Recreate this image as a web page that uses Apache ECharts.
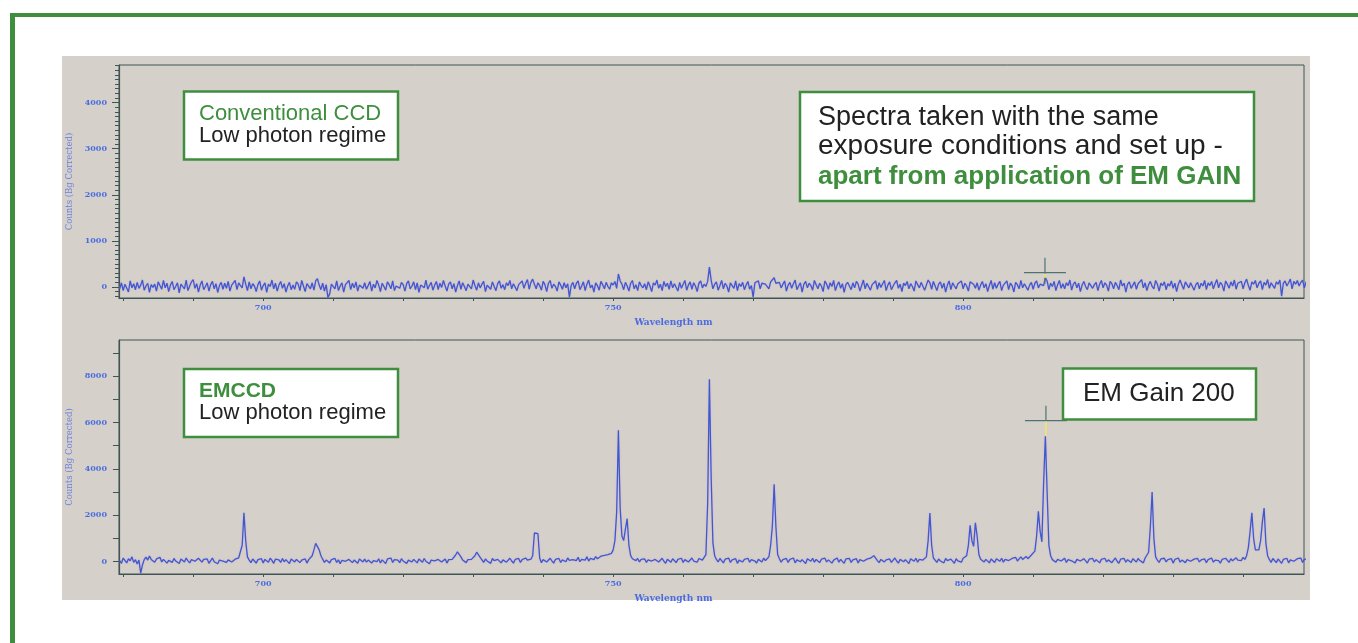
<!DOCTYPE html>
<html>
<head>
<meta charset="utf-8">
<script src="https://cdn.jsdelivr.net/npm/echarts@6/dist/echarts.min.js"></script>
<style>
html,body{margin:0;padding:0;background:#ffffff;}
#chart{width:1358px;height:643px;}
</style>
</head>
<body>
<div id="chart"></div>
<script>
// ---- sampling grid of the spectra (nm): one value every 0.25 nm ----
const startNm = 679.5;
const stepNm = 0.25;

// ---- Conventional CCD spectrum, counts (Bg corrected); each row = 5 nm ----
const ccdCounts = [
  -40, 90, -80, 60, 20, -110, 130, -20, 70, -60, 100, -30, 40, 150, -70, 20, 80, -120, 50, -10,
  60, -90, 110, 30, -50, 140, -20, 80, -100, 40, 120, -60, 10, 90, -130, 60, 30, -40, 150, -80,
  20, 110, 160, -30, 70, -110, 40, 130, -60, 10, 90, -90, 50, 120, -40, 70, -120, 30, 100, -50,
  80, -30, 120, -90, 40, 10, 140, -60, 90, 30, -20, 220, 60, -80, 110, -40, 70, 20, -100, 50,
  130, -70, 30, 90, -120, 60, 10, 150, -40, 80, -90, 40, 120, -30, 70, -110, 20, 100, -60, 40,
  -50, 110, 60, -80, 140, 20, -100, 70, 30, -40, 90, -70, 130, 180, 40, -60, 80, -90, 50, -230,
  -150, 60, 100, -40, 130, -80, 20, 90, -110, 50, 10, 140, -60, 80, -20, 110, -90, 40, 70, -30,
  90, -50, 30, 120, -90, 60, -20, 140, 40, -100, 80, 10, -70, 110, 50, -40, 130, -80, 20, 60,
  -30, 100, 50, -90, 70, 130, -40, 20, 110, -60, 90, -120, 40, 80, -20, 150, -50, 30, 100, -70,
  40, 120, -60, 80, -10, 140, 20, -90, 60, 110, -40, 70, -110, 30, 130, -50, 90, 10, -80, 60,
  100, -40, 150, 30, -70, 90, -20, 60, 120, -100, 40, 80, -50, 110, 10, -80, 70, 130, -30, 50,
  -60, 90, 30, 140, -40, 70, 110, -80, 50, 20, 130, -30, 80, 160, -50, 100, 170, 60, -40, 90,
  30, -70, 120, 50, -100, 80, 140, -30, 60, 10, -90, 110, 40, -50, 90, -20, 70, -220, 30, 100,
  -40, 80, 130, -60, 20, 110, -80, 60, 150, -20, 40, -110, 90, 30, -70, 120, 50, -40, 100, 10,
  -50, 90, 40, 120, -30, 280, 130, 60, -60, 100, 20, -90, 80, 140, -40, 50, -80, 110, 30, -20,
  70, -60, 110, 20, -100, 90, 40, 150, -30, 60, -80, 120, 10, 80, -50, 130, -20, 70, 40, -90,
  100, -30, 60, 140, -70, 40, 110, -50, 90, 20, -100, 80, 130, -20, 60, 10, 120, 430, 150, -40,
  60, 110, -70, 30, 140, -40, 80, 20, -110, 90, 50, -30, 130, -80, 70, 10, 100, -60, 40, 120,
  -50, 30, -220, 90, 50, 130, -40, 80, 110, 60, 60, -40, 110, 90, 200, 80, 40, 100, -20, 60,
  130, -90, 40, 100, -30, 70, 150, -60, 20, 90, -110, 60, 120, -20, 80, 30, -70, 140, 50, -40,
  80, 20, -100, 130, 60, -50, 90, 10, 140, -80, 40, 110, -30, 70, -120, 50, 100, 20, -60, 90,
  -20, 120, 60, -90, 30, 150, -40, 80, 110, -70, 50, 10, 130, -50, 90, -10, 70, 140, -80, 40,
  110, -60, 20, 90, 140, -30, 60, -100, 80, 30, 120, -40, 70, 10, -90, 130, 50, -20, 100, 60,
  -70, 40, 150, 90, -50, 120, 20, -80, 60, 110, -30, 80, -110, 40, 130, -60, 90, 20, -40, 70,
  50, 130, -40, 80, 20, -90, 110, 150, 60, -30, 90, -70, 40, 120, -20, 70, -100, 30, 140, -50,
  90, -30, 60, 120, -80, 40, 10, 130, -60, 80, 30, -110, 100, 50, -40, 140, -20, 70, 110, -70,
  40, 100, -50, 80, 130, -20, 60, 90, 30, 200, 130, -60, 80, 10, 120, -80, 50, 140, -30, 70,
  -40, 90, 30, 150, -70, 60, 110, -20, 80, -100, 40, 120, 10, -60, 90, 130, -30, 50, 100, -80,
  60, 140, -20, 90, 40, -90, 120, 70, -40, 100, 30, -60, 150, 20, 80, -110, 60, 110, -30, 40,
  110, -50, 70, 30, 160, -20, 90, -80, 50, 120, 10, -40, 140, 60, -90, 80, 30, 110, -60, 70,
  20, 130, -30, 80, -100, 60, 150, 40, -50, 110, 70, -20, 90, 130, -70, 50, 100, -40, 80, 20,
  140, -60, 90, 30, 120, -40, 70, 160, -20, 100, 50, -90, 130, 60, -30, 110, 20, 150, -50, 80,
  60, 120, -40, 90, 170, 30, -70, 110, 60, 140, -20, 80, 130, -60, 100, 40, 160, -30, 90, 120,
  -30, 110, 60, 150, -200, 80, 130, 20, 90, 170, -40, 120, 60, 140, 20, 100, 150, -20, 110, 70
];

// ---- EMCCD spectrum (EM gain 200), counts; each row = 5 nm ----
const emccdCounts = [
  40, -80, 150, 90, -60, 120, 30, 200, -40, 80, -110, 60, -500, -150, 80, 190, 60, 240, 90, 130,
  -30, 110, 60, 180, -20, 90, 140, -70, 50, 100, -40, 130, 20, 70, -90, 110, 40, -20, 150, 30,
  -60, 80, 120, 10, -50, 140, 60, -30, 90, 20, 110, -80, 40, 150, -10, 70, -100, 60, 130, 20,
  90, -40, 70, 130, -20, 60, 100, 20, 160, 150, 700, 2100, 900, 200, 60, -50, 110, 20, -70, 80,
  40, 120, -60, 90, 20, -30, 140, 50, -80, 100, 30, 70, -40, 130, -10, 80, 20, -90, 110, 40,
  -20, 90, 140, -50, 60, 20, 110, -70, 80, 30, 250, 500, 780, 820, 500, 250, 100, -40, 60, 120,
  -60, 80, 30, 130, -40, 70, -100, 50, 120, 10, -30, 90, 150, -50, 60, 20, -80, 110, 40, -20,
  100, -30, 60, 140, -70, 40, 90, -10, 120, -60, 70, 30, -90, 110, 50, 150, -40, 80, 10, 60,
  -50, 120, 20, 80, -80, 60, 140, -20, 90, 30, -60, 110, 50, -30, 130, 10, 70, -100, 60, 100,
  30, -40, 90, 140, -20, 60, 110, -70, 80, 20, 90, 150, 280, 420, 380, 200, 60, 120, -50, 80,
  40, 90, 150, 250, 400, 350, 180, 70, -40, 110, 20, 60, -80, 130, 40, -20, 90, 150, -60, 70,
  110, -30, 50, 140, 20, -70, 90, 60, 130, -40, 80, 10, 150, 60, -20, 100, 250, 1230, 1240, 1200,
  150, -50, 80, 120, -20, 60, 140, 30, -70, 90, 10, 130, -40, 70, 110, -10, 150, 50, -30, 80,
  120, 40, 180, -10, 90, 150, 60, 200, 20, 130, 170, 80, 210, 120, 60, 230, 150, 260, 180, 300,
  280, 350, 500, 900, 2130, 5665, 2300, 1100, 900, 1400, 1846, 700, 250, 120, 180, 40, 130, -20, 90, 60,
  110, -40, 70, 150, 20, -60, 90, 130, -20, 60, 140, 10, -80, 100, 50, -30, 120, 70, -50, 90,
  30, 140, -40, 80, 110, -20, 60, 150, 20, 90, -30, 130, 180, 60, 140, 300, 2500, 7870, 3645, 800,
  250, 90, -20, 130, 40, -60, 100, 20, 150, -40, 70, 10, 120, -80, 60, 110, -20, 90, 40, 140,
  -30, 80, 130, 20, -70, 100, 60, -20, 140, 40, 90, 200, 700, 1550, 3330, 1500, 300, 120, -30, 80,
  60, 130, -40, 90, 20, 150, -60, 70, 110, -10, 80, 40, -90, 120, 60, 10, 140, -30, 90, 50,
  -50, 100, 30, 140, -20, 70, 120, -70, 60, 20, 150, -30, 90, 40, -80, 110, 60, 130, -40, 70,
  20, 120, -60, 80, 150, 10, -40, 100, 60, 140, 170, 250, 180, 40, -50, 90, 130, -20, 70, 30,
  110, -40, 60, 150, 20, -70, 90, 130, -10, 80, 40, -90, 120, 60, 10, 140, -30, 90, 120, 60,
  30, 200, 900, 2090, 700, 150, 60, -40, 110, 20, 90, -60, 130, 40, -20, 100, 60, -80, 120, 30,
  80, -30, 140, 60, 250, 700, 1557, 900, 650, 1673, 1100, 300, 100, 160, -20, 90, 40, -60, 110, 70,
  -40, 120, 60, 10, 140, -30, 90, 150, 40, -20, 130, 70, 180, 20, 110, 200, 90, 160, 220, 120,
  200, 280, 250, 450, 1100, 2162, 1300, 850, 3400, 5405, 3000, 700, 250, 80, 150, -30, 90, 130, 20, 60,
  140, -40, 80, 160, 30, 110, -60, 90, 150, 20, -30, 120, 60, -70, 100, 40, 130, -20, 80, 50,
  -60, 90, 30, 140, -20, 70, 110, -50, 60, 150, 10, -80, 100, 40, 130, -30, 80, 20, -40, 120,
  60, -20, 130, 40, 90, -60, 150, 70, 400, 1500, 2997, 1000, 200, 60, -40, 110, 30, 140, -20, 80,
  40, 120, -70, 90, 20, 150, -30, 60, 110, -50, 80, 140, 10, -40, 100, 60, 130, -20, 70, 30,
  110, -50, 80, 20, 150, -30, 60, 130, 40, -70, 90, 10, 140, 70, -40, 120, 30, 90, 160, 60,
  120, 40, 180, 90, 250, 600, 1300, 2105, 1000, 500, 420, 500, 900, 1700, 2305, 800, 250, 90, -40, 130,
  60, -50, 110, 150, -80, 90, 20, 140, -60, 70, 130, 10, -30, 120, 60, 150, -40, 90, 30, 110
];

// ---- cursor (crosshair) positions [nm, counts] ----
const ccdCursor = [[811.69, 310]];
const emccdCursor = [[811.83, 6080]];

// ---- axis ticks / labels ----
const xTickValues = [680, 690, 700, 710, 720, 730, 740, 750, 760, 770, 780, 790, 800, 810, 820, 830, 840];
const xTickLabels = [700, 750, 800];
const ccdYLabels = [0, 1000, 2000, 3000, 4000];
const ccdYMinorTicks = [];
for (let v = -200; v <= 4800; v += 100) ccdYMinorTicks.push(v);
const emccdYLabels = [0, 2000, 4000, 6000, 8000];
const emccdYTicks = [0, 1000, 2000, 3000, 4000, 5000, 6000, 7000, 8000, 9000];

// build series data on the sampling grid
const ccdData = ccdCounts.map((c, i) => [startNm + i * stepNm, c]);
const emccdData = emccdCounts.map((c, i) => [startNm + i * stepNm, c]);

const GREEN = '#3e8e3e';
const AXIS = '#3f5454';
const LABEL_BLUE = '#4b6be0';
const NAME_BLUE = '#6b7fe0';
const LINE_BLUE = '#3a5ad2';

const plain = function (v) { return String(v); };
const labelStyle = {
  color: LABEL_BLUE, fontFamily: 'DejaVu Serif', fontWeight: 'bold', fontSize: 8, formatter: plain
};

function xAxisFor(gridIndex) {
  return {
    type: 'value', gridIndex: gridIndex, min: 679.4, max: 848.7,
    axisLine: { show: true, onZero: false, lineStyle: { color: AXIS, width: 1.2 } },
    axisTick: { show: true, customValues: xTickValues, length: 3, lineStyle: { color: AXIS } },
    axisLabel: Object.assign({ customValues: xTickLabels, margin: 6 }, labelStyle),
    splitLine: { show: false },
    name: 'Wavelength nm', nameLocation: 'middle', nameGap: 20,
    nameTextStyle: { color: LABEL_BLUE, fontFamily: 'DejaVu Serif', fontWeight: 'bold', fontSize: 9, padding: [0, 76, 0, 0] }
  };
}

function cursorSeries(xi, yi, data, yellowLen, downLen) {
  return {
    type: 'custom', xAxisIndex: xi, yAxisIndex: yi, data: data, z: 5,
    renderItem: function (params, api) {
      const p = api.coord([api.value(0), api.value(1)]);
      return {
        type: 'group', children: [
          { type: 'line', shape: { x1: p[0] - 21, y1: p[1], x2: p[0] + 21, y2: p[1] }, style: { stroke: '#4f7373', lineWidth: 1.2 } },
          { type: 'line', shape: { x1: p[0], y1: p[1] - 15, x2: p[0], y2: p[1] + downLen }, style: { stroke: '#4f7373', lineWidth: 1.2 } },
          { type: 'line', shape: { x1: p[0], y1: p[1] + 1, x2: p[0], y2: p[1] + yellowLen }, style: { stroke: '#efe07a', lineWidth: 2 } }
        ]
      };
    }
  };
}

function box(x, y, w, h) {
  return { type: 'rect', z: 100, shape: { x: x, y: y, width: w, height: h }, style: { fill: '#ffffff', stroke: GREEN, lineWidth: 2.5 } };
}
function txt(x, y, text, size, color, weight) {
  return { type: 'text', z: 101, x: x, y: y, style: { text: text, fill: color, fontSize: size, fontFamily: 'Liberation Sans', fontWeight: weight || 'normal', verticalAlign: 'middle', align: 'left' } };
}

const lineStyle = { color: LINE_BLUE, width: 1.3, shadowColor: 'rgba(225,120,200,0.45)', shadowBlur: 2 };

const chart = echarts.init(document.getElementById('chart'));
chart.setOption({
  animation: false,
  backgroundColor: '#ffffff',
  grid: [
    { left: 119, top: 65, width: 1185, height: 233, show: true, borderColor: AXIS, borderWidth: 1, backgroundColor: 'transparent' },
    { left: 119, top: 340, width: 1185, height: 234, show: true, borderColor: AXIS, borderWidth: 1, backgroundColor: 'transparent' }
  ],
  xAxis: [xAxisFor(0), xAxisFor(1)],
  yAxis: [
    {
      type: 'value', gridIndex: 0, min: -240, max: 4815, position: 'left',
      axisLine: { show: true, onZero: false, lineStyle: { color: AXIS, width: 1.2 } },
      axisTick: { show: true, customValues: ccdYMinorTicks, length: 4, lineStyle: { color: AXIS } },
      axisLabel: Object.assign({ customValues: ccdYLabels, margin: 12 }, labelStyle),
      splitLine: { show: false },
      name: 'Counts (Bg Corrected)', nameLocation: 'middle', nameRotate: 90, nameGap: 41,
      nameTextStyle: { color: NAME_BLUE, fontFamily: 'DejaVu Serif', fontSize: 8.5 }
    },
    {
      type: 'value', gridIndex: 0, min: -240, max: 4815, position: 'left', offset: 0,
      axisLine: { show: false },
      axisTick: { show: true, customValues: ccdYLabels, length: 7, lineStyle: { color: AXIS } },
      axisLabel: { show: false }, splitLine: { show: false }
    },
    {
      type: 'value', gridIndex: 1, min: -540, max: 9560, position: 'left',
      axisLine: { show: true, onZero: false, lineStyle: { color: AXIS, width: 1.2 } },
      axisTick: { show: true, customValues: emccdYTicks, length: 6, lineStyle: { color: AXIS } },
      axisLabel: Object.assign({ customValues: emccdYLabels, margin: 12 }, labelStyle),
      splitLine: { show: false },
      name: 'Counts (Bg Corrected)', nameLocation: 'middle', nameRotate: 90, nameGap: 41,
      nameTextStyle: { color: NAME_BLUE, fontFamily: 'DejaVu Serif', fontSize: 8.5 }
    }
  ],
  series: [
    { type: 'line', xAxisIndex: 0, yAxisIndex: 0, data: ccdData, showSymbol: false, z: 3, lineStyle: lineStyle },
    { type: 'line', xAxisIndex: 1, yAxisIndex: 2, data: emccdData, showSymbol: false, z: 3, lineStyle: lineStyle },
    cursorSeries(0, 0, ccdCursor, 5, 11),
    cursorSeries(1, 2, emccdCursor, 15, 0)
  ],
  graphic: [
    { type: 'rect', z: -10, shape: { x: 62, y: 56, width: 1248, height: 544 }, style: { fill: '#d5d1ca' } },
    { type: 'rect', z: 50, shape: { x: 10, y: 13, width: 1348, height: 4 }, style: { fill: GREEN } },
    { type: 'rect', z: 50, shape: { x: 10, y: 13, width: 5, height: 630 }, style: { fill: GREEN } },
    box(184, 91.5, 214, 68),
    txt(199, 113.5, 'Conventional CCD', 22, GREEN),
    txt(199, 135.5, 'Low photon regime', 22, '#222222'),
    box(800, 92, 454, 109),
    txt(818, 118, 'Spectra taken with the same', 27, '#222222'),
    txt(818, 146, 'exposure conditions and set up -', 28, '#222222'),
    txt(818, 177, 'apart from application of EM GAIN', 26, GREEN, 'bold'),
    box(184, 369, 214, 68),
    txt(199, 391, 'EMCCD', 21, GREEN, 'bold'),
    txt(199, 413, 'Low photon regime', 22, '#222222'),
    box(1063, 368.5, 193, 51),
    txt(1083, 394, 'EM Gain 200', 26, '#222222')
  ]
});
</script>
</body>
</html>
